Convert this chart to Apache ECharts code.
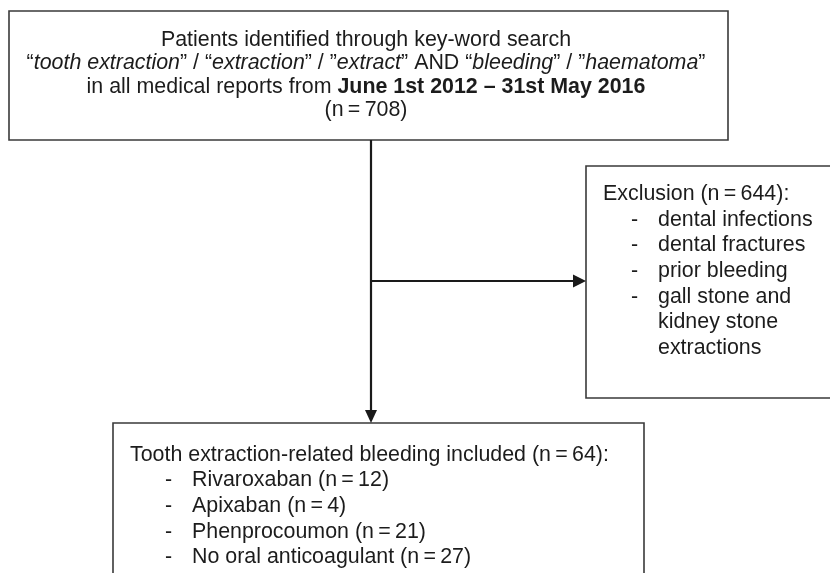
<!DOCTYPE html>
<html><head><meta charset="utf-8">
<script src="https://cdn.jsdelivr.net/npm/echarts@6/dist/echarts.min.js"></script>
<style>html,body{margin:0;padding:0;background:#fff}#c{width:830px;height:573px}</style>
</head><body><div id="c"></div>
<script>
// ---- data ----
const nIdentified = 708;
const nExcluded = 644;
const nIncluded = 64;
const searchTermsA = ['tooth extraction', 'extraction', 'extract'];
const searchTermsB = ['bleeding', 'haematoma'];
const period = 'June 1st 2012 \u2013 31st May 2016';
const exclusionReasons = ['dental infections', 'dental fractures', 'prior bleeding', 'gall stone and', 'kidney stone', 'extractions'];
const exclusionBullet = [true, true, true, true, false, false];
const groups = ['Rivaroxaban', 'Apixaban', 'Phenprocoumon', 'No oral anticoagulant'];
const groupCounts = [12, 4, 21, 27];

// ---- drawing ----
const FONT = '"Liberation Sans", Arial, Helvetica, sans-serif';
const FS = 21.4;
const TXT = '#1c1c1c';
const nEq = n => '(n\u2009=\u2009' + n + ')';
const q = (t, open) => open + '{i|' + t + '}\u201D';

const els = [];
function box(x, y, w, h) {
  els.push({type: 'rect', shape: {x, y, width: w, height: h}, style: {fill: '#fff', stroke: '#3a3a3a', lineWidth: 1.6}, z: 1});
}
function line(x1, y1, x2, y2) {
  els.push({type: 'line', shape: {x1, y1, x2, y2}, style: {stroke: '#1a1a1a', lineWidth: 2.2}, z: 2});
}
function arrow(points) {
  els.push({type: 'polygon', shape: {points}, style: {fill: '#1a1a1a'}, z: 3});
}
const rich = {
  i: {fontStyle: 'italic', fontSize: FS, fontFamily: FONT, fill: TXT},
  b: {fontWeight: 'bold', fontSize: FS, fontFamily: FONT, fill: TXT}
};
function text(str, x, y, align) {
  els.push({type: 'text', z: 5, style: {text: str, x, y, align: align || 'left', verticalAlign: 'middle', fontSize: FS, fontFamily: FONT, fill: TXT, rich}});
}

// boxes
box(9, 11, 719, 129);
box(586, 166, 260, 232);
box(113, 423, 531, 170);

// connectors
line(371, 140, 371, 411);
arrow([[365, 410], [377, 410], [371, 423]]);
line(371, 281, 574, 281);
arrow([[573, 274.5], [573, 287.5], [586, 281]]);

// top box text
const topLines = [
  'Patients identified through key-word search',
  q(searchTermsA[0], '\u201C') + ' / ' + q(searchTermsA[1], '\u201C') + ' / ' + q(searchTermsA[2], '\u201D') +
    ' AND ' + q(searchTermsB[0], '\u201C') + ' / ' + q(searchTermsB[1], '\u201D'),
  'in all medical reports from {b|' + period + '}',
  nEq(nIdentified)
];
topLines.forEach((s, k) => text(s, 366, 40 + k * 23.5, 'center'));

// exclusion box text
text('Exclusion ' + nEq(nExcluded) + ':', 603, 194, 'left');
exclusionReasons.forEach((r, k) => {
  const y = 220 + k * 25.6;
  if (exclusionBullet[k]) text('-', 631, y, 'left');
  text(r, 658, y, 'left');
});

// included box text
text('Tooth extraction-related bleeding included ' + nEq(nIncluded) + ':', 130, 455, 'left');
groups.forEach((g, k) => {
  const y = 480.5 + k * 25.6;
  text('-', 165, y, 'left');
  text(g + ' ' + nEq(groupCounts[k]), 192, y, 'left');
});

const chart = echarts.init(document.getElementById('c'), null, {renderer: 'canvas'});
chart.setOption({animation: false, backgroundColor: '#fff', graphic: {elements: els}});
</script>
</body></html>
